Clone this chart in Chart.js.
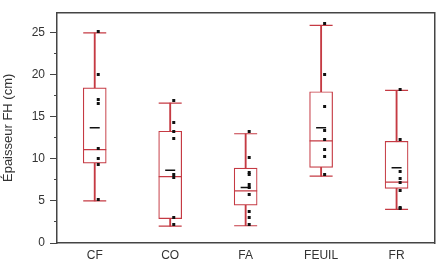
<!DOCTYPE html>
<html>
<head>
<meta charset="utf-8">
<script src="https://cdn.jsdelivr.net/npm/chart.js@4/dist/chart.umd.min.js"></script>
<style>
html,body{margin:0;padding:0;background:#fff;}
#wrap{width:447px;height:271px;position:relative;}
</style>
</head>
<body>
<div id="wrap"><canvas id="c"></canvas></div>
<script>
// ---- data ----
const categories = ['CF', 'CO', 'FA', 'FEUIL', 'FR'];
const whiskerLow  = [5.0, 2.0, 2.05, 7.95, 4.0];
const q1          = [9.5, 2.9, 4.5, 9.0, 6.5];
const median      = [11.1, 7.9, 6.2, 12.15, 7.25];
const q3          = [18.45, 13.3, 8.9, 18.0, 12.1];
const whiskerHigh = [25.0, 16.65, 13.0, 25.9, 18.15];
const mean        = [13.7, 8.65, 6.6, 13.7, 8.95];
const ptsCF    = [25.2, 20.1, 17.1, 16.6, 11.2, 10.0, 9.3, 5.2];
const ptsCO    = [16.9, 14.3, 13.25, 12.4, 8.2, 7.85, 3.05, 2.25];
const ptsFA    = [13.3, 10.2, 8.35, 8.1, 7.0, 6.6, 5.8, 3.8, 3.0, 2.2];
const ptsFEUIL = [26.1, 20.1, 16.2, 13.35, 12.3, 11.15, 10.3, 8.1];
const ptsFR    = [18.25, 12.3, 8.5, 7.65, 7.15, 6.25, 4.25, 4.05];
const yTicksMajor = [0, 5, 10, 15, 20, 25];
const yMin = 0, yMax = 27.4;

const pointGroups = [ptsCF, ptsCO, ptsFA, ptsFEUIL, ptsFR];
const scatterData = [];
pointGroups.forEach((g, i) => g.forEach(v => scatterData.push({x: categories[i], y: v})));

const RED = '#c53a43';

// small square marker drawn slightly right of the box centre
const dot = document.createElement('canvas');
dot.width = 14; dot.height = 3;
const dctx = dot.getContext('2d');
dctx.fillStyle = '#111';
dctx.fillRect(9, 0, 3, 3);

const FONT = {family: '"Liberation Sans", Arial, sans-serif', size: 12};

new Chart(document.getElementById('c'), {
  type: 'bar',
  data: {
    labels: categories,
    datasets: [
      { // whiskers
        type: 'bar', order: 6, grouped: false,
        data: categories.map((c, i) => [whiskerLow[i], whiskerHigh[i]]),
        barThickness: 1.2, backgroundColor: RED, borderWidth: 0
      },
      { // boxes
        type: 'bar', order: 5, grouped: false,
        data: categories.map((c, i) => [q1[i], q3[i]]),
        barThickness: 23, backgroundColor: '#ffffff', borderColor: RED,
        borderWidth: 1.2, borderSkipped: false
      },
      { // upper caps
        type: 'line', order: 4, showLine: false, data: whiskerHigh,
        pointStyle: 'line', pointRadius: 11.5, pointBorderColor: RED, pointBorderWidth: 1.2
      },
      { // lower caps
        type: 'line', order: 4, showLine: false, data: whiskerLow,
        pointStyle: 'line', pointRadius: 11.5, pointBorderColor: RED, pointBorderWidth: 1.2
      },
      { // medians
        type: 'line', order: 3, showLine: false, data: median,
        pointStyle: 'line', pointRadius: 11.5, pointBorderColor: RED, pointBorderWidth: 1.2
      },
      { // means
        type: 'line', order: 2, showLine: false, data: mean,
        pointStyle: 'line', pointRadius: 5, pointBorderColor: '#111', pointBorderWidth: 1.5
      },
      { // raw points
        type: 'line', order: 1, showLine: false, data: scatterData,
        pointStyle: dot, pointRadius: 2
      }
    ]
  },
  options: {
    responsive: true,
    maintainAspectRatio: false,
    animation: false,
    events: [],
    layout: {padding: {top: 6, right: 3, left: 0, bottom: 0}},
    plugins: {legend: {display: false}, tooltip: {enabled: false}},
    scales: {
      x: {
        type: 'category', position: 'bottom', offset: true,
        grid: {display: false, drawTicks: false},
        border: {color: '#444', width: 1.5},
        ticks: {color: '#333', font: FONT, padding: 5},
        afterFit: s => { s.height = 28; }
      },
      xTop: {
        type: 'category', labels: categories, position: 'top', offset: true,
        grid: {display: false, drawTicks: false}, ticks: {display: false},
        border: {color: '#444', width: 1.5},
        afterFit: s => { s.height = 0; }
      },
      y: {
        type: 'linear', position: 'left', weight: 1, min: yMin, max: yMax,
        ticks: {stepSize: 5, color: '#333', font: FONT, padding: 5},
        afterBuildTicks: s => { s.ticks = yTicksMajor.map(v => ({value: v})); },
        grid: {drawOnChartArea: false, tickLength: 7, color: '#444', lineWidth: 1},
        border: {color: '#444', width: 1.5},
        title: {display: true, text: 'Épaisseur FH (cm)', color: '#333', font: {family: FONT.family, size: 13}, padding: {top: 1, bottom: 0}},
        afterFit: s => { s.width = 57; }
      },
      yMinor: {
        type: 'linear', position: 'left', weight: 0, min: yMin, max: yMax,
        ticks: {display: false, stepSize: 2.5},
        afterBuildTicks: s => { s.ticks = s.ticks.filter(t => Math.abs(t.value / 2.5 - Math.round(t.value / 2.5)) < 1e-6); },
        grid: {drawOnChartArea: false, tickLength: 3, color: '#444', lineWidth: 1},
        border: {display: false},
        afterFit: s => { s.width = 0; }
      },
      yRight: {
        type: 'linear', position: 'right', min: yMin, max: yMax,
        grid: {display: false, drawTicks: false}, ticks: {display: false},
        border: {color: '#444', width: 1.5},
        afterFit: s => { s.width = 0; }
      }
    }
  }
});
</script>
</body>
</html>
